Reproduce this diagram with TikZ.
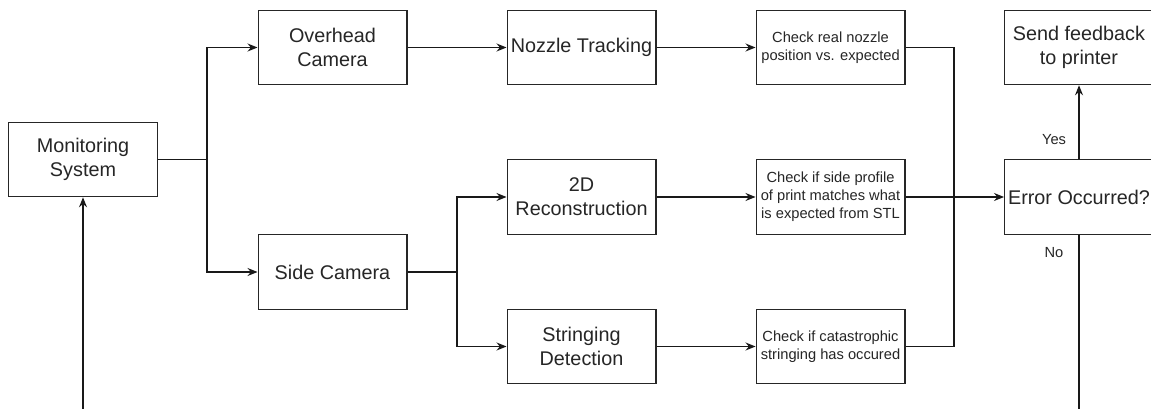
\documentclass[tikz,border=0pt]{standalone}
\usepackage{fontspec}
\setmainfont{Liberation Sans}
\usetikzlibrary{arrows.meta}

\tikzset{
  px/.style={x=0.75pt, y=-0.75pt},
  box/.style={draw=black!85, line width=0.9pt, fill=white, text=black!85,
    minimum width=111.6pt, minimum height=55.8pt, inner sep=1pt,
    align=center, font=\fontsize{14.85}{18}\selectfont},
  smallbox/.style={box, font=\fontsize{11}{13.5}\selectfont},
  link/.style={draw=black!90, line width=0.9pt},
  arr/.style={link, -{Stealth[length=7.5pt, width=6pt, inset=2.5pt]}},
  tag/.style={text=black!85, font=\fontsize{11}{13.5}\selectfont, inner sep=0pt}
}

\begin{document}
\begin{tikzpicture}[px]
  \useasboundingbox (0,0) rectangle (1151,409);
  \clip (0,0) rectangle (1151,409);

  % process boxes
  \node[box] (mon)    at (83,159.5)   {Monitoring\\System};
  \node[box] (over)   at (332.5,47.5) {Overhead\\Camera};
  \node[box] (side)   at (332.5,272)  {Side Camera};
  \node[box] (nozzle) at (581.5,47.5) {Nozzle Tracking};
  \node[box] (recon)  at (581.5,197)  {2D\\Reconstruction};
  \node[box] (string) at (581.5,346.5){Stringing\\Detection};
  \node[smallbox] (chkpos)  at (830.5,47.5)  {Check real nozzle\\position vs. expected};
  \node[smallbox] (chkside) at (830.5,197)   {Check if side profile\\of print matches what\\is expected from STL};
  \node[smallbox] (chkstr)  at (830.5,346.5) {Check if catastrophic\\stringing has occured};
  \node[box] (err) at (1079,197)  {Error Occurred?};
  \node[box] (fb)  at (1079,47.5) {Send feedback\\to printer};

  % branch points
  \coordinate (jcam)  at (207,159.5);
  \coordinate (jside) at (457,272);
  \coordinate (jchk)  at (954,197);
  % the feedback loop runs below the drawing area
  \coordinate (loop)  at (1079,450);

  % camera split
  \draw[link] (mon.east) -- (jcam);
  \draw[arr] (jcam) |- (over.west);
  \draw[arr] (jcam) |- (side.west);

  % side camera split
  \draw[link] (side.east) -- (jside);
  \draw[arr] (jside) |- (recon.west);
  \draw[arr] (jside) |- (string.west);

  % analysis chains
  \draw[arr] (over.east)   -- (nozzle.west);
  \draw[arr] (nozzle.east) -- (chkpos.west);
  \draw[arr] (recon.east)  -- (chkside.west);
  \draw[arr] (string.east) -- (chkstr.west);

  % checks merge into the decision
  \draw[link] (chkpos.east) -| (jchk);
  \draw[link] (chkstr.east) -| (jchk);
  \draw[arr] (chkside.east) -- (err.west);

  % decision outcomes
  \draw[arr] (err.north) -- (fb.south);
  \node[tag] (yes) at (1054,140) {Yes};
  \node[tag] (no)  at (1054,253) {No};
  \draw[arr] (err.south) -- (loop) -| (mon.south);
\end{tikzpicture}
\end{document}
